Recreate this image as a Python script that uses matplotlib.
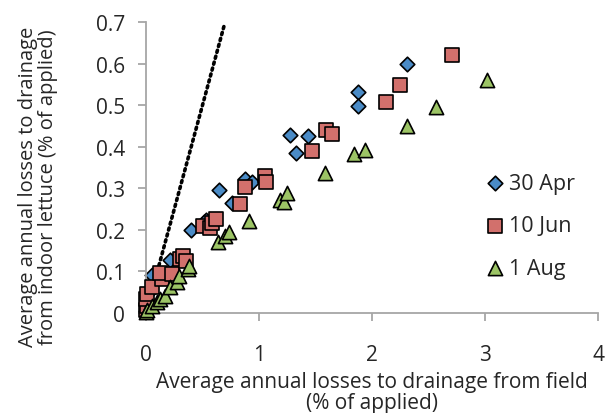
import matplotlib.pyplot as plt

plt.rcParams["font.family"] = ["Open Sans", "DejaVu Sans"]

# 30 Apr (diamonds)
apr_x = [0.0, 0.01, 0.03, 0.05, 0.21, 0.40, 0.51, 0.53, 0.65, 0.76, 0.88, 0.94,
         1.27, 1.33, 1.43, 1.88, 1.88, 2.31]
apr_y = [0.005, 0.020, 0.050, 0.091, 0.128, 0.200, 0.218, 0.224, 0.297, 0.264,
         0.322, 0.314, 0.428, 0.386, 0.425, 0.532, 0.497, 0.599]

# 10 Jun (squares)
jun_x = [0.0, 0.01, 0.0, 0.01, 0.05, 0.14, 0.12, 0.23, 0.30, 0.33, 0.35, 0.50,
         0.57, 0.58, 0.62, 0.83, 0.88, 1.05, 1.06, 1.47, 1.59, 1.65, 2.12, 2.25, 2.71]
jun_y = [0.008, 0.018, 0.034, 0.046, 0.062, 0.082, 0.096, 0.094, 0.130, 0.136,
         0.126, 0.210, 0.205, 0.217, 0.226, 0.263, 0.303, 0.329, 0.316, 0.390,
         0.441, 0.431, 0.507, 0.549, 0.621]

# 1 Aug (triangles)
aug_x = [0.0, 0.01, 0.05, 0.095, 0.12, 0.17, 0.21, 0.27, 0.29, 0.37, 0.38, 0.64,
         0.70, 0.73, 0.91, 1.19, 1.22, 1.25, 1.58, 1.84, 1.94, 2.31, 2.57, 3.02]
aug_y = [0.003, 0.008, 0.018, 0.026, 0.034, 0.042, 0.062, 0.074, 0.090, 0.106,
         0.114, 0.172, 0.186, 0.194, 0.222, 0.273, 0.266, 0.289, 0.337, 0.382,
         0.393, 0.449, 0.495, 0.561]

# 1:1 line
line_x = [0.0, 0.69]
line_y = [0.0, 0.69]

fig = plt.figure(figsize=(6.14, 4.14), dpi=100)
ax = fig.add_axes([0.2378, 0.2415, 0.7362, 0.7029])

ax.plot(line_x, line_y, color="black", linestyle=(0, (0.6, 1.1)), linewidth=2.6,
        dash_capstyle="round", zorder=1)

ax.scatter(apr_x, apr_y, marker="D", s=55, color="#4A8BC6", edgecolor="black",
           linewidth=1.2, label="30 Apr", zorder=2, clip_on=False)
ax.scatter(jun_x, jun_y, marker="s", s=95, color="#D2706C", edgecolor="black",
           linewidth=1.2, label="10 Jun", zorder=3, clip_on=False)
ax.scatter(aug_x, aug_y, marker="^", s=105, color="#9CC465", edgecolor="black",
           linewidth=1.2, label="1 Aug", zorder=4, clip_on=False)

ax.set_xlim(0, 4)
ax.set_ylim(0, 0.7)
ax.set_xticks([0, 1, 2, 3, 4])
ax.set_xticklabels(["0", "1", "2", "3", "4"])
ax.set_yticks([0, 0.1, 0.2, 0.3, 0.4, 0.5, 0.6, 0.7])
ax.set_yticklabels(["0", "0.1", "0.2", "0.3", "0.4", "0.5", "0.6", "0.7"])

for side in ["top", "right"]:
    ax.spines[side].set_visible(False)
for side in ["left", "bottom"]:
    ax.spines[side].set_color("#A6A6A6")
    ax.spines[side].set_linewidth(1.3)
ax.tick_params(axis="both", colors="#A6A6A6", labelcolor="#262626", labelsize=15,
               length=6, width=1.3)
ax.tick_params(axis="x", pad=16)
ax.tick_params(axis="y", pad=9)

ax.set_xlabel("Average annual losses to drainage from field\n(% of applied)",
              fontsize=15, color="#262626", linespacing=1.0)
ax.xaxis.set_label_coords(0.5, -0.2)
ax.set_ylabel("Average annual losses to drainage\nfrom indoor lettuce (% of applied)",
              fontsize=14.5, color="#262626", linespacing=1.0)
ax.yaxis.set_label_coords(-0.195, 0.436)

ax.legend(frameon=False, loc="center left", bbox_to_anchor=(0.706, 0.30),
          fontsize=15.5, labelspacing=1.0, handletextpad=0.15, handlelength=1.0,
          labelcolor="#262626", scatterpoints=1)

fig.savefig("out.png", dpi=100)
